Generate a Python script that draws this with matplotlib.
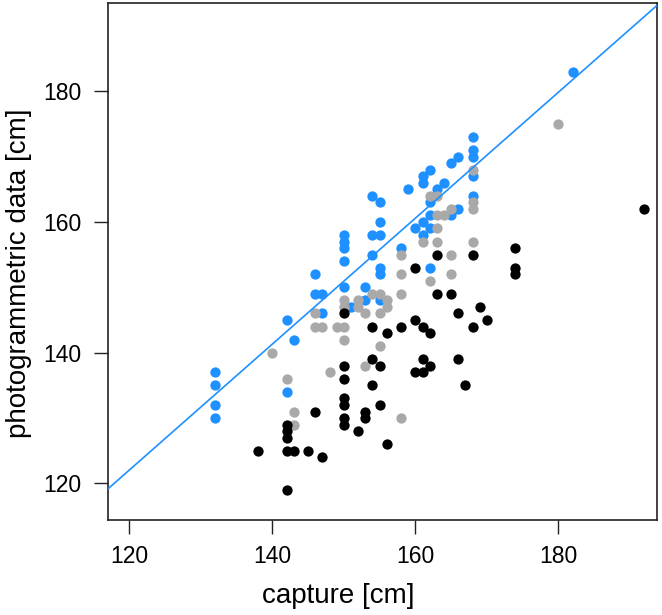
import matplotlib
matplotlib.use("Agg")
import matplotlib.pyplot as plt

plt.rcParams['font.family'] = ['Liberation Sans', 'DejaVu Sans']

# ---- data (capture [cm], photogrammetric [cm]) ----
blue_x = [132, 132, 132, 132, 142, 142, 143, 146, 146, 147, 147, 150, 150, 150, 150, 150,
          151, 153, 153, 154, 155, 154, 155, 155, 154, 155, 155, 155, 158, 159, 160, 161,
          162, 161, 162, 162, 162, 161, 161, 162, 163, 164, 165, 166, 165, 166, 168, 168,
          168, 168, 168, 182]
blue_y = [137, 135, 132, 130, 145, 134, 142, 152, 149, 149, 146, 158, 157, 156, 154, 150,
          147, 150, 148, 164, 163, 158, 158, 160, 155, 153, 152, 148, 156, 165, 159, 160,
          159, 158, 161, 163, 153, 167, 166, 168, 165, 166, 161, 162, 169, 170, 173, 171,
          170, 167, 164, 183]

gray_x = [140, 142, 143, 143, 146, 146, 147, 149, 150, 150, 155, 153, 148, 158, 150, 150,
          152, 152, 156, 156, 153, 155, 154, 155, 158, 158, 158, 161, 163, 163, 162, 163,
          163, 164, 165, 162, 165, 165, 168, 168, 168, 168, 180]
gray_y = [140, 136, 131, 129, 146, 144, 144, 144, 144, 142, 141, 138, 137, 130, 148, 147,
          148, 147, 148, 147, 146, 146, 149, 149, 155, 152, 149, 157, 157, 159, 164, 164,
          161, 161, 162, 151, 155, 152, 168, 163, 162, 157, 175]

black_x = [150, 154, 158, 160, 161, 162, 156, 166, 168, 169, 170, 154, 155, 150, 161, 162,
           160, 161, 166, 167, 150, 154, 146, 150, 150, 150, 150, 153, 153, 155, 152, 142,
           142, 142, 142, 143, 145, 147, 156, 142, 138, 160, 163, 168, 163, 165, 174, 174,
           174, 192]
black_y = [146, 144, 144, 145, 144, 143, 143, 146, 144, 147, 145, 139, 138, 138, 139, 138,
           137, 137, 139, 135, 136, 135, 131, 133, 132, 130, 129, 131, 130, 132, 128, 129,
           128, 127, 125, 125, 125, 124, 126, 119, 125, 153, 155, 155, 149, 149, 156, 153,
           152, 162]

# reference line (intercept, slope)
line_intercept = 6.5
line_slope = 0.963

x_ticks = [120, 140, 160, 180]
y_ticks = [120, 140, 160, 180]

W, H = 662, 615
fig = plt.figure(figsize=(W / 100, H / 100), dpi=100)
L, R, T, B = 108, 657, 3, 520
ax = fig.add_axes([L / W, 1 - B / H, (R - L) / W, (B - T) / H])

ms = 55
ax.scatter(blue_x, blue_y, s=ms, color='#1E90FF', linewidths=0, zorder=2)
ax.scatter(gray_x, gray_y, s=ms, color='#A9A9A9', linewidths=0, zorder=3)
ax.scatter(black_x, black_y, s=ms, color='black', linewidths=0, zorder=4)
ax.axline((0, line_intercept), slope=line_slope, color='#1E90FF', lw=1.2, zorder=5)

ax.set_xlim(117.0, 193.8)
ax.set_ylim(114.4, 193.5)
ax.set_xticks(x_ticks)
ax.set_yticks(y_ticks)
ax.tick_params(axis='both', direction='out', length=10, width=1.0, labelsize=16.5,
               color='#222222')
ax.tick_params(axis='x', pad=8)
ax.tick_params(axis='y', pad=9)
for s in ax.spines.values():
    s.set_linewidth(1.2)
    s.set_color('#222222')

ax.set_xlabel('capture [cm]', fontsize=20)
ax.xaxis.label.set_va('baseline')
ax.xaxis.set_label_coords((338 - L) / (R - L), -(603 - B) / (B - T))

ax.set_ylabel('photogrammetric data [cm]', fontsize=20)
ax.yaxis.label.set_va('center')
ax.yaxis.set_label_coords((19 - L) / (R - L), (B - 273.5) / (B - T))

fig.savefig('out.png', dpi=100)
